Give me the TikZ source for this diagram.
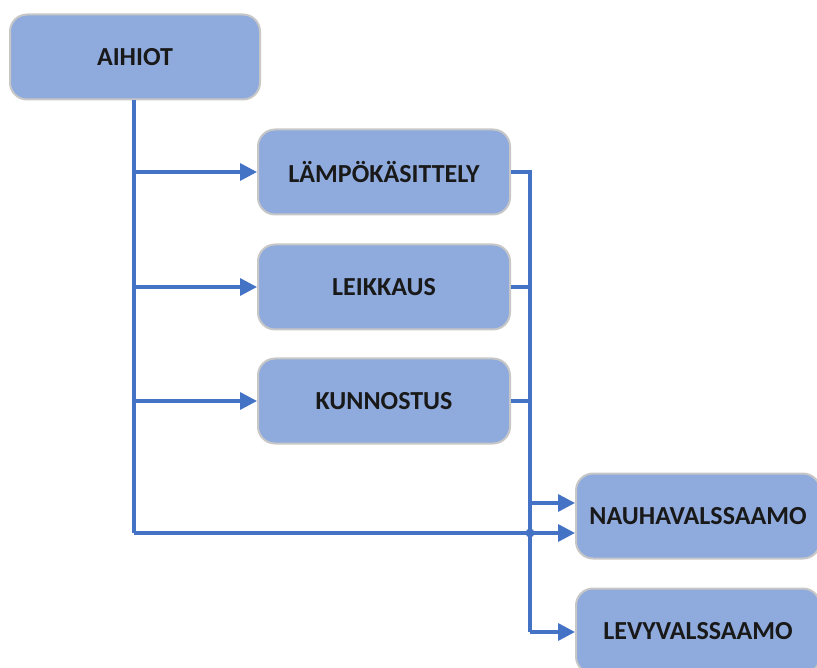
\documentclass[tikz,border=0pt]{standalone}
\usepackage{fontspec}
\setmainfont{Carlito}
\usetikzlibrary{arrows.meta}
\definecolor{boxfill}{RGB}{143,170,220}
\definecolor{flowblue}{RGB}{68,114,196}
\begin{document}
\begin{tikzpicture}[x=1pt,y=-1pt,
  procbox/.style={draw=black!22, line width=2pt, fill=boxfill,
    rounded corners=17pt, minimum width=#1, minimum height=85pt, inner sep=0pt,
    font=\fontsize{26}{30}\selectfont\bfseries, text=black!90},
  procbox/.default=252pt,
  flow/.style={draw=flowblue, line width=3.4pt},
  arr/.style={flow, -{Triangle[length=17pt,width=17pt]}}]
\useasboundingbox (0,0) rectangle (817,668);
\node[procbox=250pt] (aihiot) at (135,57) {AIHIOT};
\node[procbox] (lampo) at (384,172) {LÄMPÖKÄSITTELY};
\node[procbox] (leik) at (384,287) {LEIKKAUS};
\node[procbox] (kunn) at (384,401) {KUNNOSTUS};
\node[procbox=244pt] (nauha) at (698,516) {NAUHAVALSSAAMO};
\node[procbox=244pt] (levy) at (698,631) {LEVYVALSSAAMO};
% trunk from the blanks to each treatment
\coordinate (t0) at (134,100);
\draw[flow] (aihiot.south -| t0) -- (134,533);
\draw[arr] (134,172) -- (lampo.west);
\draw[arr] (134,287) -- (leik.west);
\draw[arr] (134,401) -- (kunn.west);
\draw[arr] (134,533) -- (nauha.west |- 0,533);
% collector from the treatments to the mills
\draw[flow] (lampo.east) -- (530,172) -- (530,632);
\draw[arr] (530,632) -- (levy.west |- 0,632);
\draw[flow] (leik.east) -- (530,287);
\draw[flow] (kunn.east) -- (530,401);
\draw[arr] (530,503) -- (nauha.west |- 0,503);
\fill[flowblue] (530,533) circle (4.5pt);
\end{tikzpicture}
\end{document}
